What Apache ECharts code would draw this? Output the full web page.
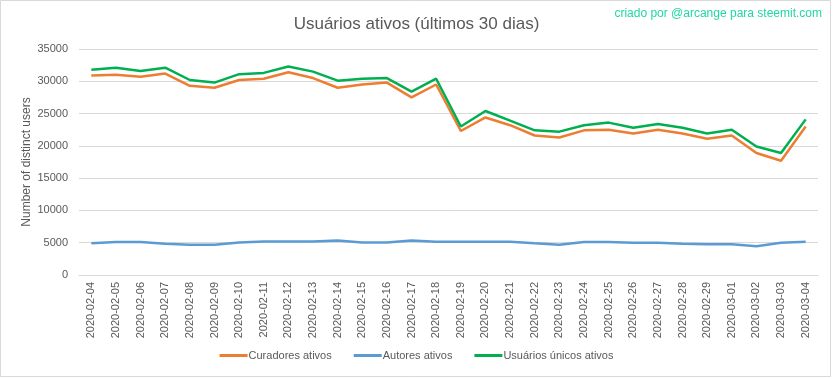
<!DOCTYPE html>
<html><head><meta charset="utf-8">
<script src="https://cdn.jsdelivr.net/npm/echarts@6/dist/echarts.min.js"></script>
<style>html,body{margin:0;padding:0;background:#fff}#c{width:833px;height:379px}</style>
</head><body><div id="c"></div>
<script>
const categories = ['2020-02-04','2020-02-05','2020-02-06','2020-02-07','2020-02-08','2020-02-09','2020-02-10','2020-02-11','2020-02-12','2020-02-13','2020-02-14','2020-02-15','2020-02-16','2020-02-17','2020-02-18','2020-02-19','2020-02-20','2020-02-21','2020-02-22','2020-02-23','2020-02-24','2020-02-25','2020-02-26','2020-02-27','2020-02-28','2020-02-29','2020-03-01','2020-03-02','2020-03-03','2020-03-04'];
const curadores = [30900,31000,30700,31200,29300,29000,30200,30400,31400,30500,29000,29500,29800,27500,29500,22300,24400,23200,21600,21300,22400,22500,21900,22500,21900,21100,21600,18900,17700,23000];
const autores = [4900,5100,5100,4850,4700,4700,5050,5200,5200,5200,5350,5050,5050,5350,5150,5150,5150,5150,4900,4700,5100,5100,5000,5000,4850,4750,4750,4450,5000,5150];
const unicos = [31800,32100,31600,32100,30200,29800,31100,31300,32300,31500,30100,30400,30500,28400,30400,23000,25400,23900,22400,22200,23200,23600,22800,23400,22800,21900,22500,19900,18900,24100];
const yTicks = [0,5000,10000,15000,20000,25000,30000,35000];

const font = 'Liberation Sans';
const chart = echarts.init(document.getElementById('c'), null, {renderer:'canvas'});
chart.setOption({
  animation:false,
  backgroundColor:'#fff',
  textStyle:{fontFamily:font},
  title:{text:'Usuários ativos (últimos 30 dias)', left:'center', top:11,
    textStyle:{fontFamily:font, fontSize:17, fontWeight:'normal', color:'#595959'}},
  graphic:[
    {type:'rect', shape:{x:0.5,y:0.5,width:830,height:376}, style:{fill:null, stroke:'#d9d9d9', lineWidth:1}, silent:true},
    {type:'text', right:11, top:8, style:{text:'criado por @arcange para steemit.com', fill:'#1fd8a2', font:'12px "Liberation Sans"'}}
  ],
  legend:{bottom:13, left:'center', itemWidth:28, itemHeight:3, itemGap:22, icon:'rect',
    textStyle:{fontFamily:font, fontSize:11, color:'#595959', padding:[0,0,0,-4]},
    data:['Curadores ativos','Autores ativos','Usuários únicos ativos']},
  grid:{left:79, right:15, top:49, bottom:104, containLabel:false},
  xAxis:{type:'category', data:categories, boundaryGap:true,
    axisLine:{lineStyle:{color:'#d9d9d9'}}, axisTick:{show:false},
    axisLabel:{rotate:90, interval:0, color:'#595959', fontSize:11, margin:7, fontFamily:font}},
  yAxis:{type:'value', min:0, max:35000, interval:5000,
    name:'Number of distinct users', nameLocation:'middle', nameGap:46, nameRotate:90,
    nameMoveOverlap:false,
    nameTextStyle:{color:'#595959', fontSize:12, fontFamily:font},
    axisLine:{show:false}, axisTick:{show:false},
    axisLabel:{color:'#595959', fontSize:11, margin:11, fontFamily:font,
      formatter:function(v){return yTicks.indexOf(v)>=0 ? String(v) : '';}},
    splitLine:{lineStyle:{color:'#d9d9d9'}}},
  series:[
    {name:'Curadores ativos', type:'line', data:curadores, symbol:'none', itemStyle:{color:'#ED7D31'}, lineStyle:{width:2.5, color:'#ED7D31'}},
    {name:'Autores ativos', type:'line', data:autores, symbol:'none', itemStyle:{color:'#5B9BD5'}, lineStyle:{width:2.5, color:'#5B9BD5'}},
    {name:'Usuários únicos ativos', type:'line', data:unicos, symbol:'none', itemStyle:{color:'#00B050'}, lineStyle:{width:2.5, color:'#00B050'}}
  ]
});
</script></body></html>
